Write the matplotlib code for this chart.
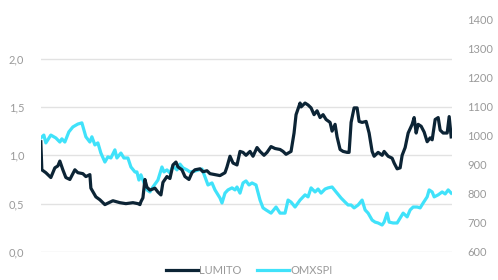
import matplotlib.pyplot as plt

# LUMITO (left axis) - traced values, day index
lumito_day = [41, 42, 46, 51, 55, 58, 60, 63, 66, 70, 75, 78, 83, 86, 90, 91, 96, 100, 105, 113,
              120, 126, 133, 138, 140, 141, 143, 145, 147, 150, 155, 158, 161, 163, 167, 170, 173,
              176, 178, 182, 185, 189, 192, 195, 200, 203, 207, 210, 215, 220, 225, 227, 230, 233,
              237, 240, 243, 246, 250, 253, 257, 260, 264, 267, 271, 275, 280, 283, 286, 291, 294,
              296, 300, 301, 305, 308, 311, 314, 317, 320, 323, 326, 330, 332, 335, 337, 340, 343,
              347, 349, 351, 354, 357, 359, 362, 366, 369, 372, 374, 378, 382, 384, 388, 392, 394,
              397, 400, 402, 405, 408, 412, 414, 416, 418, 421, 424, 427, 430, 432, 435, 438, 440,
              443, 447, 449, 451]
lumito = [1.14, 0.85, 0.82, 0.77, 0.87, 0.89, 0.94, 0.85, 0.77, 0.75, 0.85, 0.82, 0.81, 0.78, 0.80,
          0.66, 0.57, 0.54, 0.49, 0.53, 0.51, 0.50, 0.51, 0.50, 0.49, 0.52, 0.56, 0.75, 0.67, 0.64,
          0.66, 0.62, 0.59, 0.72, 0.78, 0.76, 0.90, 0.93, 0.88, 0.85, 0.78, 0.75, 0.82, 0.85, 0.86,
          0.83, 0.84, 0.81, 0.80, 0.79, 0.82, 0.88, 0.99, 0.92, 0.90, 1.04, 1.03, 1.00, 1.04, 0.99,
          1.08, 1.04, 1.00, 1.03, 1.09, 1.07, 1.06, 1.04, 1.01, 1.04, 1.23, 1.42, 1.54, 1.50, 1.54,
          1.52, 1.49, 1.42, 1.46, 1.39, 1.42, 1.37, 1.34, 1.25, 1.32, 1.19, 1.06, 1.04, 1.03, 1.03,
          1.34, 1.49, 1.49, 1.35, 1.34, 1.35, 1.23, 1.04, 0.99, 1.03, 1.00, 1.04, 0.99, 0.97, 0.92,
          0.86, 0.87, 1.00, 1.08, 1.23, 1.32, 1.39, 1.23, 1.32, 1.30, 1.24, 1.14, 1.18, 1.16, 1.37,
          1.39, 1.26, 1.23, 1.23, 1.40, 1.19]

# OMXSPI (right axis)
omx_day = [41, 44, 46, 51, 56, 60, 62, 65, 69, 73, 78, 82, 86, 90, 92, 95, 98, 101, 105, 108, 111,
           115, 117, 121, 124, 128, 131, 135, 137, 139, 141, 143, 147, 150, 153, 158, 162, 164, 167,
           170, 173, 177, 180, 183, 187, 190, 195, 202, 205, 208, 212, 215, 220, 222, 225, 228, 232,
           235, 237, 240, 243, 246, 249, 252, 256, 260, 263, 266, 271, 276, 280, 285, 288, 291, 295,
           300, 305, 308, 311, 315, 318, 321, 325, 328, 332, 336, 341, 345, 348, 351, 354, 358, 362,
           365, 368, 372, 375, 378, 382, 384, 387, 389, 393, 397, 400, 403, 407, 410, 413, 417, 420,
           423, 427, 429, 432, 434, 438, 442, 445, 448, 451]
omx = [993, 1003, 976, 1003, 993, 979, 990, 979, 1014, 1031, 1041, 1045, 997, 979, 997, 969, 976,
       941, 910, 928, 924, 952, 924, 941, 924, 924, 893, 876, 876, 848, 866, 848, 814, 807, 824,
       848, 893, 876, 883, 872, 897, 883, 903, 890, 883, 876, 879, 886, 859, 831, 838, 814, 786,
       769, 803, 814, 821, 814, 824, 803, 838, 845, 831, 838, 831, 779, 752, 745, 734, 755, 734,
       734, 779, 772, 755, 779, 797, 790, 821, 807, 817, 803, 817, 821, 824, 807, 786, 772, 762,
       762, 752, 762, 779, 745, 734, 710, 703, 700, 693, 703, 734, 703, 700, 700, 717, 734, 721,
       745, 755, 755, 752, 769, 790, 814, 807, 790, 797, 807, 800, 814, 803]

left_ticks = [0.0, 0.5, 1.0, 1.5, 2.0]
right_ticks = [600, 700, 800, 900, 1000, 1100, 1200, 1300, 1400]

navy = '#0c2435'
cyan = '#40e2fa'
grey = '#9a9a9a'

plt.rcParams['font.family'] = ['Lato', 'DejaVu Sans']

fig = plt.figure(figsize=(4.98, 2.80), dpi=100)
ax = fig.add_axes([0.082, 0.1, 0.826, 0.829])
ax2 = ax.twinx()

l1, = ax.plot(lumito_day, lumito, color=navy, lw=2.3, zorder=3)
l2, = ax2.plot(omx_day, omx, color=cyan, lw=2.3)

ax.set_zorder(ax2.get_zorder() + 1)
ax.patch.set_visible(False)

ax.set_xlim(41, 452)
ax.set_ylim(0, 2.4)
ax2.set_ylim(600, 1400)
ax.set_yticks(left_ticks)
ax.set_yticklabels([f'{v:.1f}'.replace('.', ',') for v in left_ticks])
ax2.set_yticks(right_ticks)
ax.set_xticks([])

for a in (ax, ax2):
    for s in a.spines.values():
        s.set_visible(False)
    a.tick_params(length=0, labelsize=8, labelcolor=grey)
ax.tick_params(axis='y', pad=12)
ax2.tick_params(axis='y', pad=11)

for v in left_ticks:
    ax2.axhline(600 + v / 2.4 * 800, color='#e2e2e2', lw=1, zorder=0)

fig.legend([l1, l2], ['LUMITO', 'OMXSPI'], loc='center', bbox_to_anchor=(0.5, 0.035),
           ncol=2, frameon=False, fontsize=8, labelcolor=grey, handlelength=2.9,
           handletextpad=0.1, columnspacing=1.4)

plt.savefig('out.png', dpi=100)
